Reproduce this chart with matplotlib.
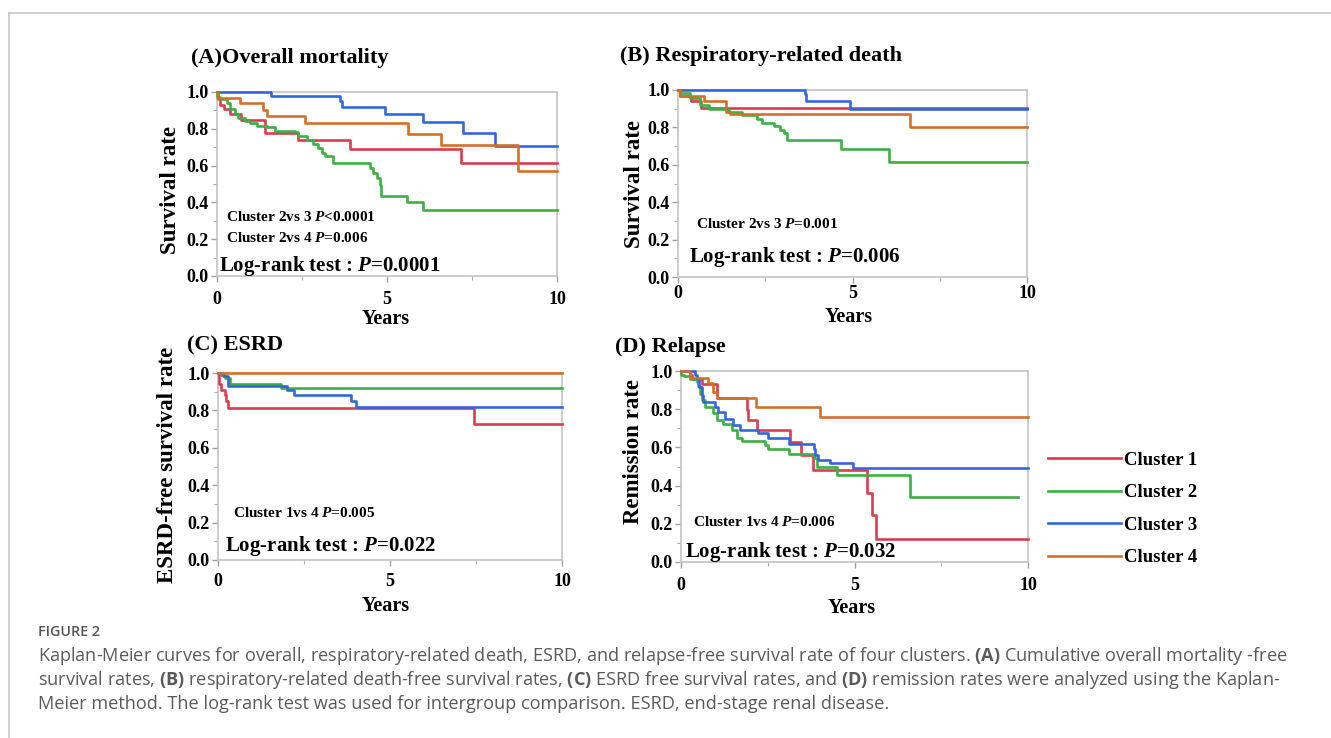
import matplotlib
matplotlib.use('Agg')
import matplotlib.pyplot as plt
from matplotlib.lines import Line2D
from matplotlib.ticker import MultipleLocator

plt.rcParams['font.family'] = 'Liberation Serif'
plt.rcParams['font.weight'] = 'bold'
plt.rcParams['axes.labelweight'] = 'bold'
plt.rcParams['mathtext.fontset'] = 'custom'
plt.rcParams['mathtext.it'] = 'Liberation Serif:italic:bold'
plt.rcParams['mathtext.bf'] = 'Open Sans:bold'

labels = ['Cluster 1', 'Cluster 2', 'Cluster 3', 'Cluster 4']
colors = ['#dc3c50', '#3cb043', '#3366dd', '#d2702a']

# (A) overall mortality
a_t1 = [0, 0.05, 0.1, 0.2, 0.4, 0.7, 1.42, 2.4, 3.91, 7.19, 10]
a_s1 = [1.0, 0.96, 0.93, 0.905, 0.88, 0.85, 0.775, 0.74, 0.69, 0.615, 0.615]
a_t2 = [0, 0.02, 0.1, 0.29, 0.39, 0.54, 0.64, 0.83, 0.98, 1.17, 1.47, 1.71, 2.30, 2.40, 2.64,
        2.84, 2.98, 3.08, 3.18, 3.42, 4.50, 4.60, 4.70, 4.79, 4.84, 5.58, 6.07, 10]
a_s2 = [1.0, 0.975, 0.96, 0.94, 0.91, 0.88, 0.86, 0.84, 0.83, 0.815, 0.81, 0.79, 0.785, 0.76, 0.74,
        0.72, 0.695, 0.67, 0.65, 0.615, 0.587, 0.56, 0.533, 0.497, 0.434, 0.40, 0.36, 0.36]
a_t3 = [0, 1.61, 3.62, 3.67, 4.94, 6.07, 7.24, 8.17, 10]
a_s3 = [1.0, 0.977, 0.95, 0.919, 0.88, 0.835, 0.776, 0.707, 0.707]
a_t4 = [0, 0.05, 0.68, 1.37, 1.47, 2.59, 5.63, 6.6, 8.86, 10]
a_s4 = [1.0, 0.97, 0.94, 0.90, 0.87, 0.83, 0.77, 0.71, 0.57, 0.57]

# (B) respiratory-related death
b_t1 = [0, 0.05, 0.38, 0.66, 10]
b_s1 = [1.0, 0.97, 0.94, 0.905, 0.905]
b_t2 = [0, 0.07, 0.35, 0.64, 0.88, 1.45, 1.83, 2.26, 2.41, 2.74, 2.93, 3.03, 3.12, 4.67, 6.06, 10]
b_s2 = [1.0, 0.985, 0.955, 0.92, 0.896, 0.884, 0.866, 0.843, 0.825, 0.81, 0.786, 0.77, 0.73, 0.687, 0.616, 0.616]
b_t3 = [0, 3.63, 3.67, 4.92, 10]
b_s3 = [1.0, 0.977, 0.94, 0.90, 0.90]
b_t4 = [0, 0.05, 0.74, 1.38, 1.5, 6.64, 10]
b_s4 = [1.0, 0.97, 0.94, 0.884, 0.87, 0.80, 0.80]

# (C) ESRD
c_t1 = [0, 0.02, 0.1, 0.19, 0.24, 0.29, 7.43, 10]
c_s1 = [1.0, 0.94, 0.91, 0.88, 0.85, 0.815, 0.725, 0.725]
c_t2 = [0, 0.1, 0.19, 0.34, 1.84, 10]
c_s2 = [1.0, 0.99, 0.975, 0.94, 0.92, 0.92]
c_t3 = [0, 0.15, 0.29, 2.0, 2.2, 3.88, 4.0, 10]
c_s3 = [1.0, 0.985, 0.93, 0.91, 0.88, 0.85, 0.82, 0.82]
c_t4 = [0, 10]
c_s4 = [1.0, 1.0]

# (D) relapse
d_t1 = [0, 0.26, 0.31, 0.6, 1.03, 1.05, 1.89, 1.92, 2.2, 3.13, 3.46, 3.8, 5.36, 5.5, 5.63, 10]
d_s1 = [1.0, 0.98, 0.96, 0.93, 0.89, 0.857, 0.795, 0.743, 0.69, 0.63, 0.56, 0.48, 0.36, 0.245, 0.122, 0.122]
d_t2 = [0, 0.01, 0.1, 0.25, 0.45, 0.5, 0.55, 0.6, 0.69, 0.93, 1.03, 1.22, 1.46, 1.6, 1.75, 2.42, 2.52,
        3.1, 3.82, 3.91, 4.51, 6.59, 9.71]
d_s2 = [1.0, 0.98, 0.975, 0.96, 0.944, 0.92, 0.88, 0.85, 0.81, 0.778, 0.746, 0.724, 0.69, 0.65, 0.633,
        0.61, 0.594, 0.568, 0.542, 0.50, 0.455, 0.34, 0.34]
d_t3 = [0, 0.4, 0.45, 0.53, 0.6, 0.64, 0.98, 1.08, 1.27, 1.51, 1.7, 2.23, 2.52, 3.1, 3.82, 3.87,
        3.96, 4.3, 4.97, 10]
d_s3 = [1.0, 0.98, 0.956, 0.918, 0.874, 0.84, 0.81, 0.787, 0.75, 0.716, 0.69, 0.673, 0.65, 0.62, 0.594,
        0.56, 0.535, 0.516, 0.49, 0.49]
d_t4 = [0, 0.26, 0.79, 0.93, 1.03, 2.16, 4.01, 10]
d_s4 = [1.0, 0.965, 0.935, 0.89, 0.857, 0.81, 0.757, 0.757]

W, H = 1331, 738
fig = plt.figure(figsize=(W / 100, H / 100), dpi=100)


def px(x0, y0, x1, y1):
    return [x0 / W, 1 - y1 / H, (x1 - x0) / W, (y1 - y0) / H]


panels = [
    dict(rect=px(216.7, 92, 557, 276), curves=[(a_t1, a_s1), (a_t2, a_s2), (a_t3, a_s3), (a_t4, a_s4)],
         title='(A)Overall mortality', tpos=(191, 58), ylabel='Survival rate', ylc=(-0.105, 0.467),
         xlc=(0.497, -0.18), xpad=7,
         notes=['Cluster 2vs 3 $P$<0.0001', 'Cluster 2vs 4 $P$=0.006'], npos=[(0.027, 0.32), (0.027, 0.207)],
         logrank='Log-rank test : $P$=0.0001', lpos=(0.007, 0.054)),
    dict(rect=px(678, 90, 1027, 277), curves=[(b_t1, b_s1), (b_t2, b_s2), (b_t3, b_s3), (b_t4, b_s4)],
         title='(B) Respiratory-related death', tpos=(620, 56), ylabel='Survival rate', ylc=(-0.095, 0.50),
         xlc=(0.49, -0.16), xpad=2,
         notes=['Cluster 2vs 3 $P$=0.001'], npos=[(0.052, 0.283)],
         logrank='Log-rank test : $P$=0.006', lpos=(0.032, 0.107)),
    dict(rect=px(218, 373, 562, 560), curves=[(c_t1, c_s1), (c_t2, c_s2), (c_t3, c_s3), (c_t4, c_s4)],
         title='(C) ESRD', tpos=(187, 345), ylabel='ESRD-free survival rate', ylc=(-0.116, 0.508),
         xlc=(0.488, -0.192), xpad=5,
         notes=['Cluster 1vs 4 $P$=0.005'], npos=[(0.044, 0.25)],
         logrank='Log-rank test : $P$=0.022', lpos=(0.02, 0.075)),
    dict(rect=px(681, 371, 1028, 562), curves=[(d_t1, d_s1), (d_t2, d_s2), (d_t3, d_s3), (d_t4, d_s4)],
         title='(D) Relapse', tpos=(615, 347), ylabel='Remission rate', ylc=(-0.107, 0.576),
         xlc=(0.493, -0.188), xpad=7,
         notes=['Cluster 1vs 4 $P$=0.006'], npos=[(0.035, 0.21)],
         logrank='Log-rank test : $P$=0.032', lpos=(0.012, 0.052)),
]

handles = []
for p in panels:
    ax = fig.add_axes(p['rect'])
    hs = []
    for (t, s), c, lab in zip(p['curves'], colors, labels):
        h, = ax.step(t, s, where='post', color=c, lw=1.9, label=lab, clip_on=False, zorder=3)
        hs.append(h)
    handles = hs
    ax.set_xlim(0, 10)
    ax.set_ylim(0, 1)
    ax.xaxis.set_major_locator(MultipleLocator(5))
    ax.xaxis.set_minor_locator(MultipleLocator(2.5))
    ax.yaxis.set_major_locator(MultipleLocator(0.2))
    ax.yaxis.set_minor_locator(MultipleLocator(0.1))
    ax.set_yticks([0, 0.2, 0.4, 0.6, 0.8, 1.0])
    ax.set_yticklabels(['0.0', '0.2', '0.4', '0.6', '0.8', '1.0'])
    for sp in ax.spines.values():
        sp.set_color('#c4c4c4')
        sp.set_linewidth(1.2)
    ax.tick_params(which='major', length=4, width=1, color='#a0a0a0', labelsize=13)
    ax.tick_params(which='minor', length=3, width=0.8, color='#b0b0b0')
    ax.tick_params(axis='x', pad=p['xpad'])
    ax.tick_params(axis='y', pad=2)
    ax.set_ylabel(p['ylabel'], fontsize=16.5)
    ax.yaxis.set_label_coords(*p['ylc'])
    ax.set_xlabel('Years', fontsize=14.5)
    ax.xaxis.set_label_coords(*p['xlc'])
    fig.text(p['tpos'][0] / W, 1 - p['tpos'][1] / H, p['title'], fontsize=16, va='center', ha='left')
    for note, (nx, ny) in zip(p['notes'], p['npos']):
        ax.text(nx, ny, note, transform=ax.transAxes, fontsize=11, va='center', ha='left')
    ax.text(p['lpos'][0], p['lpos'][1], p['logrank'], transform=ax.transAxes, fontsize=15,
            va='center', ha='left')

fig.legend(handles=handles, loc='upper left', bbox_to_anchor=(1040 / W, 1 - 444 / H), frameon=False,
           fontsize=13.5, handlelength=3.9, handletextpad=0.2, labelspacing=0.82, borderaxespad=0)

# page frame
fig.add_artist(Line2D([9 / W, 1], [1 - 13 / H, 1 - 13 / H], color='#c8c8c8', lw=1.2,
                      transform=fig.transFigure))
fig.add_artist(Line2D([9 / W, 9 / W], [0, 1 - 13 / H], color='#c8c8c8', lw=1.2,
                      transform=fig.transFigure))

# caption
fig.text(38 / W, 1 - 632 / H, 'FIGURE 2', family='Open Sans', weight='semibold', fontsize=10.3,
         color='#555555', va='center', ha='left')
cap = [
    'Kaplan-Meier curves for overall, respiratory-related death, ESRD, and relapse-free survival rate of '
    'four clusters. $\\mathbf{(A)}$ Cumulative overall mortality -free',
    'survival rates, $\\mathbf{(B)}$ respiratory-related death-free survival rates, $\\mathbf{(C)}$ ESRD free '
    'survival rates, and $\\mathbf{(D)}$ remission rates were analyzed using the Kaplan-',
    'Meier method. The log-rank test was used for intergroup comparison. ESRD, end-stage renal disease.',
]
for i, line in enumerate(cap):
    fig.text(38 / W, 1 - (656 + 24 * i) / H, line, family='Open Sans', weight='normal', fontsize=13.1,
             color='#5a5a5a', va='center', ha='left')

fig.savefig('out.png', dpi=100)
